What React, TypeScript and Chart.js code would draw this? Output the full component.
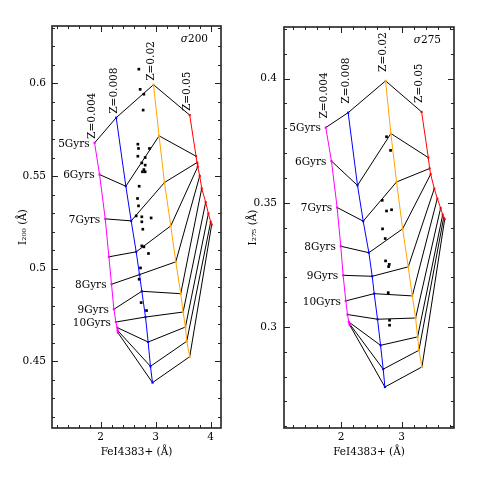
import React, { useEffect, useRef } from "react";
import { Chart, registerables } from "chart.js";

Chart.register(...registerables);

// ---------- Left panel (sigma 200) ----------
const L_Z004_X = [1.891, 1.982, 2.085, 2.151, 2.199, 2.242, 2.278, 2.302, 2.308, 2.314];
const L_Z004_Y = [0.5679, 0.5508, 0.5269, 0.5064, 0.4916, 0.4781, 0.4712, 0.4682, 0.4667, 0.4655];
const L_Z008_X = [2.284, 2.459, 2.556, 2.647, 2.707, 2.749, 2.816, 2.864, 2.906, 2.943];
const L_Z008_Y = [0.5815, 0.5445, 0.5258, 0.5091, 0.4968, 0.4878, 0.4739, 0.4604, 0.4473, 0.4385];
const L_Z02_X = [2.961, 3.063, 3.16, 3.275, 3.366, 3.456, 3.499, 3.541, 3.565, 3.619];
const L_Z02_Y = [0.5993, 0.5717, 0.5465, 0.5231, 0.5037, 0.4865, 0.4766, 0.4685, 0.4608, 0.4525];
const L_Z05_X = [3.619, 3.734, 3.752, 3.764, 3.801, 3.837, 3.909, 3.958, 4.0, 4.018];
const L_Z05_Y = [0.5829, 0.5607, 0.5573, 0.555, 0.5501, 0.5433, 0.5359, 0.5298, 0.5253, 0.5238];

const L_OBS_X = [2.695, 2.719, 2.786, 2.773, 2.677, 2.689, 2.888, 2.677, 2.81, 2.749, 2.81, 2.786, 2.761, 2.81, 2.701, 2.671, 2.689, 2.647, 2.749, 2.918, 2.749, 2.767, 2.749, 2.786, 2.87, 2.725, 2.701, 2.737, 2.834];
const L_OBS_Y = [0.6077, 0.5968, 0.5942, 0.5856, 0.5672, 0.5649, 0.5649, 0.5607, 0.56, 0.5571, 0.5559, 0.5535, 0.5523, 0.5523, 0.5445, 0.5379, 0.5339, 0.5285, 0.528, 0.5274, 0.5253, 0.5213, 0.5123, 0.5118, 0.5082, 0.5004, 0.4943, 0.4817, 0.4774];

const L_X_RANGE = [1.118, 4.187];
const L_Y_RANGE = [0.414, 0.631];
const L_X_TICKS = [2, 3, 4];
const L_X_TICK_LABELS = ["2", "3", "4"];
const L_Y_TICKS = [0.45, 0.5, 0.55, 0.6];
const L_Y_TICK_LABELS = ["0.45", "0.5", "0.55", "0.6"];
const L_AGE_IDX = [0, 1, 2, 4, 5, 6];

// ---------- Right panel (sigma 275) ----------
const R_Z004_X = [1.746, 1.84, 1.934, 1.994, 2.033, 2.077, 2.105, 2.127, 2.138, 2.144];
const R_Z004_Y = [0.3803, 0.3668, 0.3481, 0.3325, 0.3208, 0.3105, 0.305, 0.302, 0.3013, 0.3007];
const R_Z008_X = [2.116, 2.271, 2.365, 2.459, 2.514, 2.547, 2.602, 2.652, 2.696, 2.724];
const R_Z008_Y = [0.3863, 0.357, 0.3426, 0.3299, 0.3204, 0.3134, 0.3031, 0.2926, 0.283, 0.2758];
const R_Z02_X = [2.735, 2.823, 2.917, 3.017, 3.11, 3.177, 3.232, 3.265, 3.287, 3.337];
const R_Z02_Y = [0.3991, 0.3779, 0.3584, 0.3395, 0.3242, 0.3125, 0.3036, 0.296, 0.2906, 0.2839];
const R_Z05_X = [3.331, 3.442, 3.464, 3.481, 3.541, 3.591, 3.646, 3.68, 3.696, 3.713];
const R_Z05_Y = [0.3866, 0.3682, 0.3638, 0.3615, 0.3557, 0.3517, 0.3479, 0.3452, 0.344, 0.3434];

const R_OBS_X = [2.751, 2.818, 2.68, 2.751, 2.834, 2.685, 2.729, 2.735, 2.796, 2.785, 2.779, 2.801, 2.801];
const R_OBS_Y = [0.3766, 0.3711, 0.351, 0.3467, 0.3472, 0.3395, 0.3356, 0.3266, 0.3252, 0.3243, 0.3138, 0.3027, 0.3007];

const R_X_RANGE = [1.055, 3.867];
const R_Y_RANGE = [0.2593, 0.4208];
const R_X_TICKS = [2, 3];
const R_X_TICK_LABELS = ["2", "3"];
const R_Y_TICKS = [0.3, 0.35, 0.4];
const R_Y_TICK_LABELS = ["0.3", "0.35", "0.4"];
const R_AGE_IDX = [0, 1, 2, 3, 4, 5];

// ---------- Shared labels ----------
const Z_LABELS = ["Z=0.004", "Z=0.008", "Z=0.02", "Z=0.05"];
const Z_COLORS = ["#ff00ff", "#0000ff", "#ffa500", "#ff0000"];
const AGE_LABELS = ["5Gyrs", "6Gyrs", "7Gyrs", "8Gyrs", "9Gyrs", "10Gyrs"];
const X_TITLE = "FeI4383+ (Å)";

const FONT = "'DejaVu Serif', 'Liberation Serif', serif";
const FS = 10.5;

const pts = (xs: number[], ys: number[]) => xs.map((x, i) => ({ x, y: ys[i] }));

function stepValues(min: number, max: number, step: number) {
  const out: number[] = [];
  const start = Math.ceil(min / step - 1e-9);
  for (let k = start; k * step <= max + 1e-9; k++) out.push(+(k * step).toFixed(6));
  return out;
}

const framePlugin = {
  id: "frame",
  afterDraw(chart: any, _args: any, o: any) {
    const { ctx, chartArea: a } = chart;
    const xs = chart.scales.x;
    const ys = chart.scales.y;
    ctx.save();
    ctx.strokeStyle = "#222";
    ctx.lineWidth = 1;
    ctx.beginPath();
    const isMajor = (v: number, majors: number[]) => majors.some((m) => Math.abs(m - v) < 1e-6);
    for (const v of stepValues(xs.min, xs.max, o.xMinor)) {
      const p = Math.round(xs.getPixelForValue(v)) + 0.5;
      const len = isMajor(v, o.xMajor) ? 6 : 3;
      ctx.moveTo(p, a.bottom);
      ctx.lineTo(p, a.bottom - len);
      ctx.moveTo(p, a.top);
      ctx.lineTo(p, a.top + len);
    }
    for (const v of stepValues(ys.min, ys.max, o.yMinor)) {
      const p = Math.round(ys.getPixelForValue(v)) + 0.5;
      const len = isMajor(v, o.yMajor) ? 6 : 3;
      ctx.moveTo(a.left, p);
      ctx.lineTo(a.left + len, p);
      ctx.moveTo(a.right, p);
      ctx.lineTo(a.right - len, p);
    }
    ctx.stroke();
    ctx.lineWidth = 1.6;
    ctx.strokeRect(a.left, a.top, a.right - a.left, a.bottom - a.top);

    ctx.fillStyle = "#000";
    ctx.font = `${FS}px ${FONT}`;
    // Age labels
    ctx.textAlign = "right";
    ctx.textBaseline = "middle";
    o.ageIdx.forEach((idx: number, k: number) => {
      const px = xs.getPixelForValue(o.mx[idx]);
      const py = ys.getPixelForValue(o.my[idx]);
      ctx.fillText(AGE_LABELS[k], px - 5, py + 1);
    });
    // Z labels (rotated)
    o.topPts.forEach((p: number[], k: number) => {
      const px = xs.getPixelForValue(p[0]);
      const py = ys.getPixelForValue(p[1]);
      ctx.save();
      ctx.translate(px - 2, py - o.zGap);
      ctx.rotate(-Math.PI / 2);
      ctx.textAlign = "left";
      ctx.textBaseline = "middle";
      ctx.fillText(Z_LABELS[k], 0, 0);
      ctx.restore();
    });
    // sigma label
    ctx.textBaseline = "middle";
    ctx.textAlign = "left";
    ctx.font = `${FS}px ${FONT}`;
    const numW = ctx.measureText(o.sigma).width;
    ctx.font = `italic ${FS}px ${FONT}`;
    const sW = ctx.measureText("σ").width;
    const sx = a.right - 13 - numW - sW;
    const sy = a.top + 13;
    ctx.fillText("σ", sx, sy);
    ctx.font = `${FS}px ${FONT}`;
    ctx.fillText(o.sigma, sx + sW, sy);
    ctx.restore();
  },
};

function buildConfig(p: any) {
  const series = [
    [p.z004x, p.z004y],
    [p.z008x, p.z008y],
    [p.z02x, p.z02y],
    [p.z05x, p.z05y],
  ];
  const datasets: any[] = [];
  series.forEach(([xs, ys], k) => {
    datasets.push({
      data: pts(xs, ys),
      showLine: true,
      borderColor: Z_COLORS[k],
      backgroundColor: Z_COLORS[k],
      borderWidth: 1,
      pointStyle: "rect",
      pointRadius: 1.5,
      pointBorderWidth: 0,
      order: 0,
    });
  });
  datasets.push({
    data: pts(p.obsx, p.obsy),
    showLine: false,
    backgroundColor: "#000",
    borderColor: "#000",
    pointStyle: "rect",
    pointRadius: 1.9,
    pointBorderWidth: 0,
    order: 0,
  });
  for (let i = 0; i < p.z004x.length; i++) {
    datasets.push({
      data: series.map(([xs, ys]) => ({ x: xs[i], y: ys[i] })),
      showLine: true,
      borderColor: "#000",
      borderWidth: 1,
      pointRadius: 0,
      order: 1,
    });
  }
  return {
    type: "scatter",
    data: { datasets },
    plugins: [framePlugin],
    options: {
      responsive: false,
      animation: false,
      layout: { padding: p.padding },
      plugins: {
        legend: { display: false },
        tooltip: { enabled: false },
        frame: {
          xMinor: 0.2,
          yMinor: 0.01,
          xMajor: p.xTicks,
          yMajor: p.yTicks,
          mx: p.z004x,
          my: p.z004y,
          ageIdx: p.ageIdx,
          topPts: series.map(([xs, ys]) => [xs[0], ys[0]]),
          zGap: p.zGap,
          sigma: p.sigma,
        },
      },
      scales: {
        x: {
          type: "linear",
          min: p.xRange[0],
          max: p.xRange[1],
          grid: { display: false, drawTicks: false },
          border: { display: false },
          afterBuildTicks: (ax: any) => {
            ax.ticks = p.xTicks.map((v: number) => ({ value: v }));
          },
          afterFit: (ax: any) => {
            ax.height = 51;
          },
          ticks: {
            autoSkip: false,
            maxRotation: 0,
            padding: 3,
            color: "#000",
            font: { family: FONT, size: FS },
            callback: (_v: any, i: number) => p.xTickLabels[i],
          },
          title: {
            display: true,
            text: X_TITLE,
            color: "#000",
            font: { family: FONT, size: FS },
            padding: { top: 0, bottom: 20 },
          },
        },
        y: {
          type: "linear",
          min: p.yRange[0],
          max: p.yRange[1],
          grid: { display: false, drawTicks: false },
          border: { display: false },
          afterBuildTicks: (ax: any) => {
            ax.ticks = p.yTicks.map((v: number) => ({ value: v }));
          },
          afterFit: (ax: any) => {
            ax.width = p.yAxisWidth;
          },
          ticks: {
            autoSkip: false,
            padding: p.yTickPad,
            color: "#000",
            font: { family: FONT, size: FS },
            callback: (_v: any, i: number) => p.yTickLabels[i],
          },
          title: {
            display: true,
            text: p.yTitle,
            color: "#000",
            font: { family: FONT, size: FS },
            padding: { top: p.yTitlePad, bottom: 0 },
          },
        },
      },
    },
  };
}

const LEFT_PANEL = {
  z004x: L_Z004_X, z004y: L_Z004_Y, z008x: L_Z008_X, z008y: L_Z008_Y,
  z02x: L_Z02_X, z02y: L_Z02_Y, z05x: L_Z05_X, z05y: L_Z05_Y,
  obsx: L_OBS_X, obsy: L_OBS_Y,
  xRange: L_X_RANGE, yRange: L_Y_RANGE,
  xTicks: L_X_TICKS, xTickLabels: L_X_TICK_LABELS,
  yTicks: L_Y_TICKS, yTickLabels: L_Y_TICK_LABELS,
  ageIdx: L_AGE_IDX,
  sigma: "200",
  yTitle: "I₂₀₀ (Å)",
  padding: { left: 0, right: 19, top: 26, bottom: 0 },
  yAxisWidth: 52,
  yTickPad: 6,
  yTitlePad: 17,
  zGap: 4,
};

const RIGHT_PANEL = {
  z004x: R_Z004_X, z004y: R_Z004_Y, z008x: R_Z008_X, z008y: R_Z008_Y,
  z02x: R_Z02_X, z02y: R_Z02_Y, z05x: R_Z05_X, z05y: R_Z05_Y,
  obsx: R_OBS_X, obsy: R_OBS_Y,
  xRange: R_X_RANGE, yRange: R_Y_RANGE,
  xTicks: R_X_TICKS, xTickLabels: R_X_TICK_LABELS,
  yTicks: R_Y_TICKS, yTickLabels: R_Y_TICK_LABELS,
  ageIdx: R_AGE_IDX,
  sigma: "275",
  yTitle: "I₂₇₅ (Å)",
  padding: { left: 0, right: 25, top: 27, bottom: 0 },
  yAxisWidth: 44,
  yTickPad: 7,
  yTitlePad: 7,
  zGap: 9,
};

function Panel({ panel, left, width }: { panel: any; left: number; width: number }) {
  const ref = useRef<HTMLCanvasElement | null>(null);
  useEffect(() => {
    if (!ref.current) return;
    const chart = new Chart(ref.current, buildConfig(panel) as any);
    return () => chart.destroy();
  }, [panel]);
  return (
    <canvas
      ref={ref}
      width={width}
      height={479}
      style={{ position: "absolute", left, top: 0, width, height: 479 }}
    />
  );
}

export default function App() {
  return (
    <div style={{ position: "fixed", left: 0, top: 0, width: 479, height: 479, background: "#fff" }}>
      <Panel panel={LEFT_PANEL} left={0} width={240} />
      <Panel panel={RIGHT_PANEL} left={240} width={239} />
    </div>
  );
}
